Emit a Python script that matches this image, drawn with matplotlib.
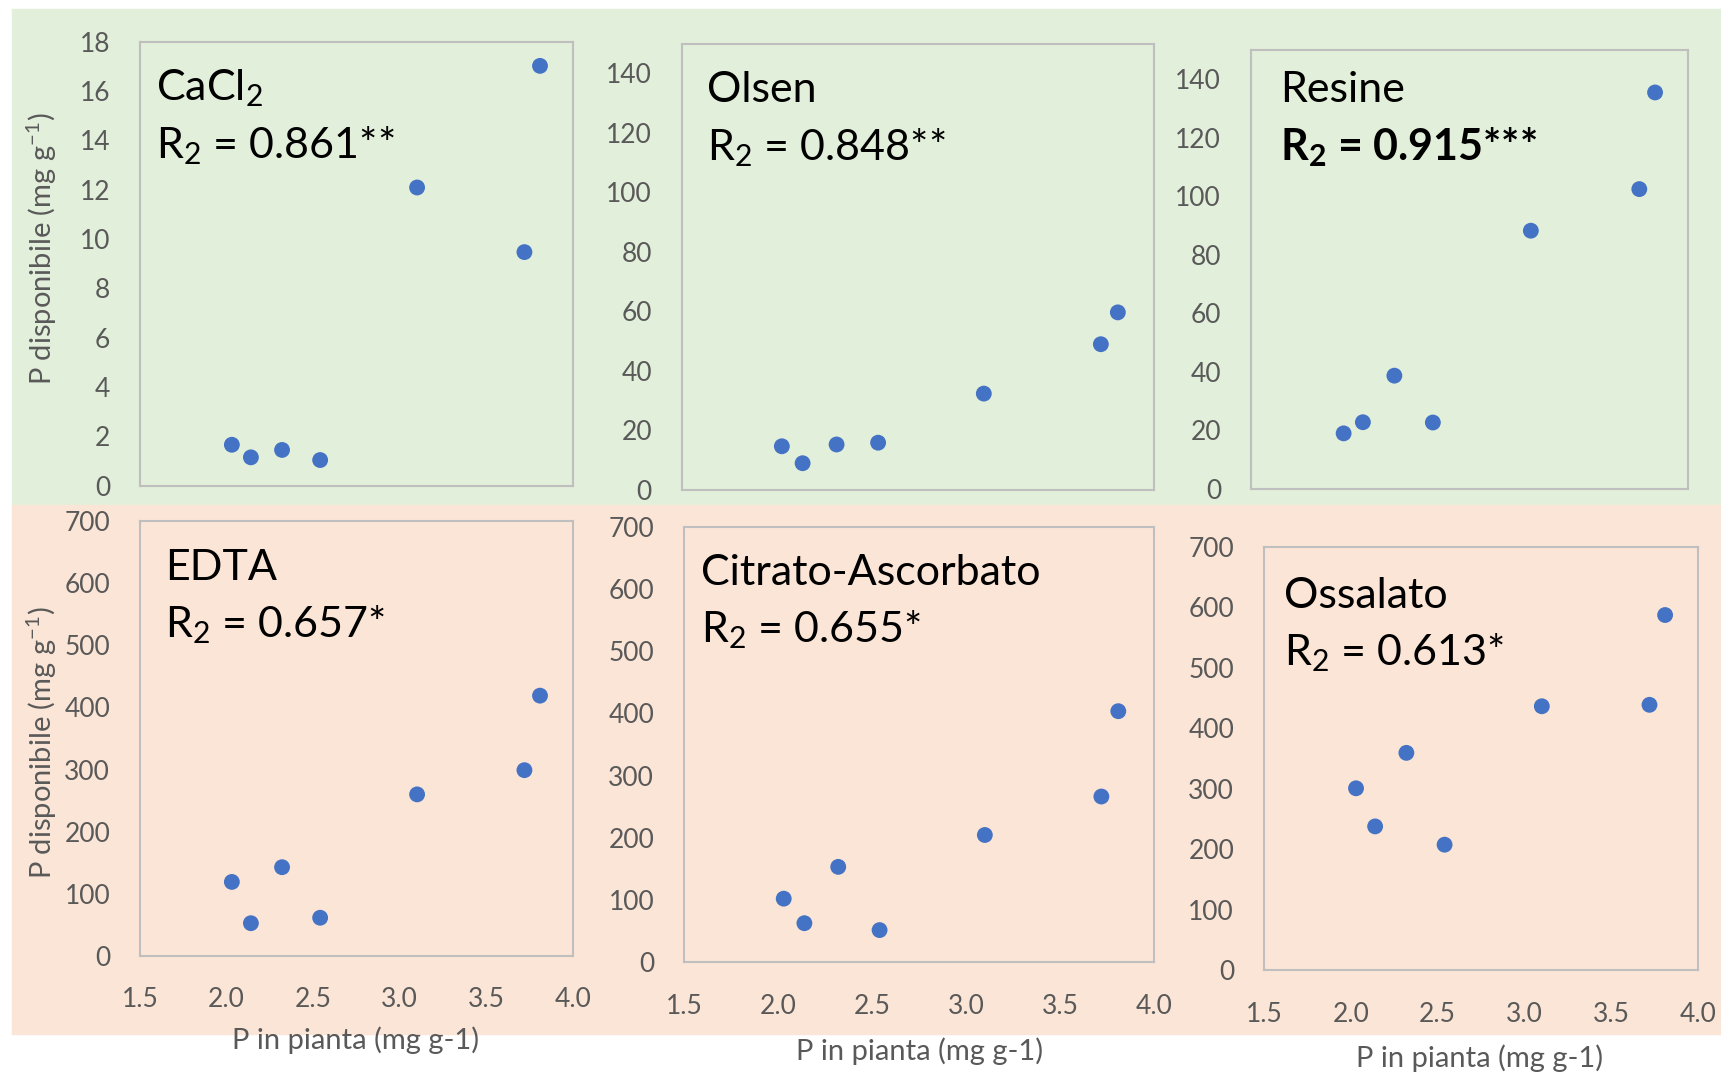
import matplotlib
matplotlib.use("Agg")
import matplotlib.pyplot as plt
from matplotlib.patches import Rectangle

plt.rcParams['font.family'] = ['Lato', 'DejaVu Sans']
plt.rcParams['mathtext.fontset'] = 'custom'
plt.rcParams['mathtext.rm'] = 'Lato'
plt.rcParams['mathtext.bf'] = 'Lato:bold'

# ---- data ----
x_p = [2.03, 2.14, 2.32, 2.54, 3.10, 3.72, 3.81]
cacl2 = [1.66, 1.15, 1.45, 1.04, 12.09, 9.47, 17.02]
olsen = [14.7, 9.0, 15.3, 15.9, 32.4, 49.0, 59.7]
resine = [19.0, 22.8, 38.7, 22.7, 88.2, 102.4, 135.4]
edta = [119, 52.5, 142.7, 61.3, 260, 299, 419]
citrato = [102.4, 63, 153.5, 51.9, 204.7, 266.5, 403.6]
ossalato = [301, 238, 359.6, 207.8, 436.6, 439, 587.4]

names = ["CaCl$_\\mathregular{2}$", "Olsen", "Resine", "EDTA", "Citrato-Ascorbato", "Ossalato"]
r2_labels = ["R$_\\mathregular{2}$ = 0.861**", "R$_\\mathregular{2}$ = 0.848**",
             "R$_\\mathregular{2}$ = 0.915***", "R$_\\mathregular{2}$ = 0.657*",
             "R$_\\mathregular{2}$ = 0.655*", "R$_\\mathregular{2}$ = 0.613*"]
series = [cacl2, olsen, resine, edta, citrato, ossalato]
ymax = [18, 150, 150, 700, 700, 700]
ystep = [2, 20, 20, 100, 100, 100]
ytop_tick = [18, 140, 140, 700, 700, 700]
x_ticks = [1.5, 2.0, 2.5, 3.0, 3.5, 4.0]
ylabel = "P disponibile (mg g$^{\\mathregular{-1}}$)"
xlabel = "P in pianta (mg g-1)"

W, H = 1721, 1074
fig = plt.figure(figsize=(W / 100, H / 100), dpi=100)

def fx(px):
    return px / W

def fy(py):
    return 1 - py / H

# background bands
fig.patches.append(Rectangle((fx(11.5), fy(505)), fx(W - 11.5), (505 - 9) / H,
                             transform=fig.transFigure, color='#E2EFDA', zorder=-10))
fig.patches.append(Rectangle((fx(11.5), fy(1034)), fx(W - 11.5), (1034 - 505) / H,
                             transform=fig.transFigure, color='#FBE5D6', zorder=-10))

rects = [
    (140.1, 41.7, 572.9, 485.7),
    (681.8, 43.7, 1153.7, 490.0),
    (1250.9, 49.7, 1688.3, 489.0),
    (140.1, 521.2, 572.9, 955.8),
    (684.1, 526.7, 1154.0, 962.4),
    (1264.0, 546.9, 1698.1, 970.4),
]
name_pos = [(156, 100, 158), (707, 102, 160), (1280, 102, 160),
            (165, 580, 637), (700.6, 585, 642), (1284, 608, 665.5)]

gray = '#595959'
for i, (l, t, r, b) in enumerate(rects):
    ax = fig.add_axes([fx(l), fy(b), (r - l) / W, (b - t) / H], zorder=1)
    ax.set_facecolor('none')
    ax.scatter(x_p, series[i], s=130, color='#4472C4', edgecolors='none', zorder=3)
    ax.set_xlim(1.5, 4.0)
    ax.set_ylim(0, ymax[i])
    ax.set_yticks(list(range(0, ytop_tick[i] + 1, ystep[i])))
    ax.set_xticks(x_ticks)
    ax.set_xticklabels([f"{v:.1f}" for v in x_ticks])
    for s in ax.spines.values():
        s.set_color('#BFBFBF')
        s.set_linewidth(1.5)
    ax.tick_params(axis='both', length=0, labelsize=19, labelcolor=gray)
    ax.tick_params(axis='y', pad=21.5)
    ax.tick_params(axis='x', pad=22.5)
    if i < 3:
        ax.tick_params(axis='x', labelbottom=False)
    nx, ny1, ny2 = name_pos[i]
    fig.text(fx(nx), fy(ny1), names[i], fontsize=31, color='black', ha='left', va='baseline', zorder=5)
    fig.text(fx(nx), fy(ny2), r2_labels[i], fontsize=31, color='black', ha='left', va='baseline',
             fontweight='bold' if i == 2 else 'normal', zorder=5)

# axis labels
fig.text(fx(42), fy(249), ylabel, rotation=90, fontsize=21, color=gray, ha='center', va='center', zorder=5)
fig.text(fx(42), fy(743), ylabel, rotation=90, fontsize=21, color=gray, ha='center', va='center', zorder=5)
fig.text(fx(356), fy(1049), xlabel, fontsize=21, color=gray, ha='center', va='baseline', zorder=5)
fig.text(fx(920), fy(1060), xlabel, fontsize=21, color=gray, ha='center', va='baseline', zorder=5)
fig.text(fx(1480), fy(1067.5), xlabel, fontsize=21, color=gray, ha='center', va='baseline', zorder=5)

fig.savefig("out.png", dpi=100, facecolor='white')
